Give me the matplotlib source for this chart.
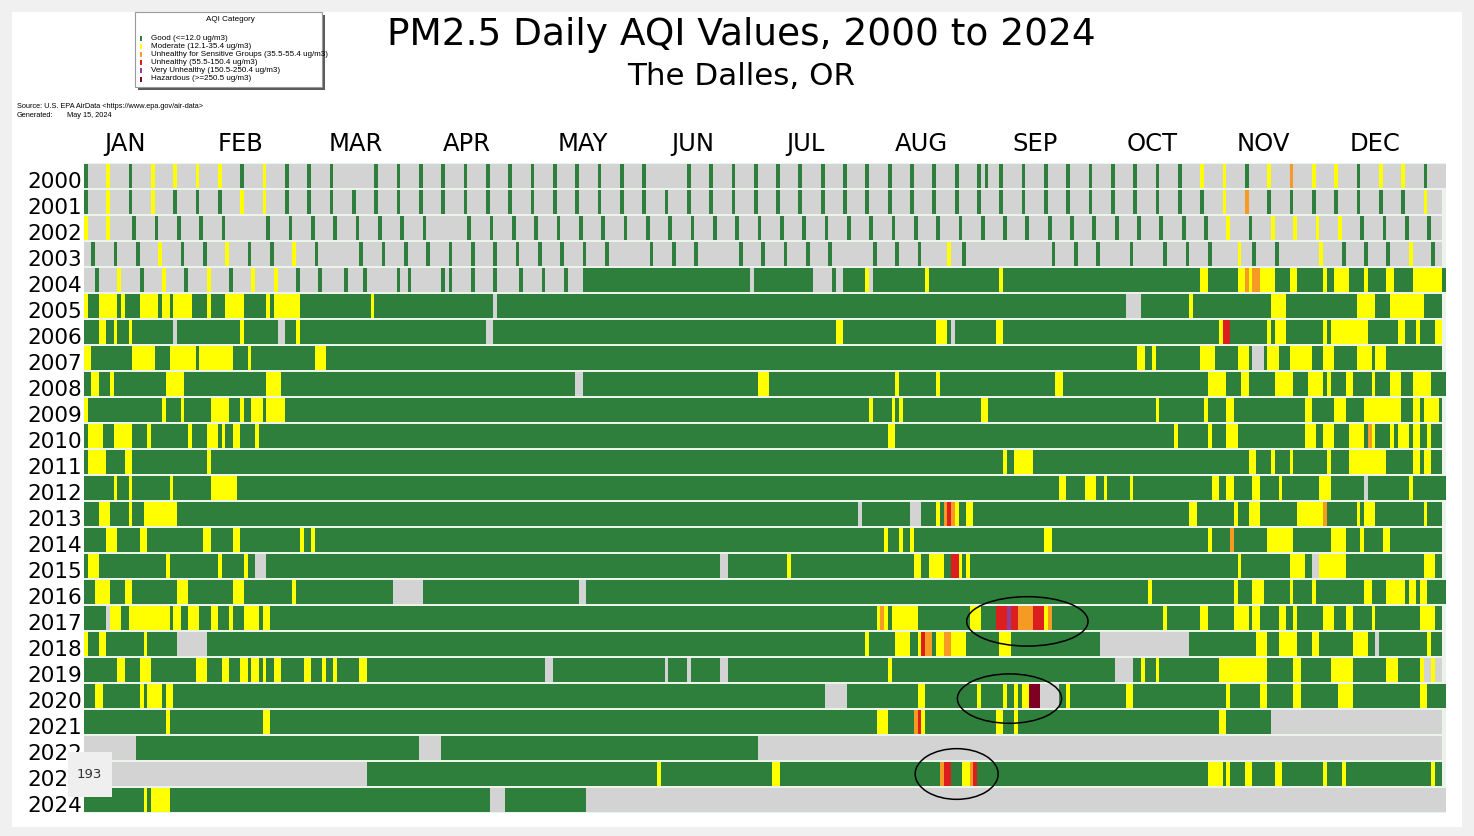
import re
import numpy as np
import matplotlib
matplotlib.use("Agg")
from matplotlib import pyplot as plt
from matplotlib.patches import Rectangle, Ellipse

W, H = 1474, 836

#========================================
#               Data
#========================================
years = list(range(2000, 2025))

category_codes = ['g', 'm', 's', 'u', 'v', 'h', 'n']
category_labels = ['Good (<=12.0 ug/m3)',
                   'Moderate (12.1-35.4 ug/m3)',
                   'Unhealthy for Sensitive Groups (35.5-55.4 ug/m3)',
                   'Unhealthy (55.5-150.4 ug/m3)',
                   'Very Unhealthy (150.5-250.4 ug/m3)',
                   'Hazardous (>=250.5 ug/m3)',
                   'No data']
category_colors = ['#2f7f3c', '#ffff00', '#f59a23', '#dc1e1e', '#8f3f97', '#7e0023', '#d3d3d3']

month_labels = ['JAN', 'FEB', 'MAR', 'APR', 'MAY', 'JUN',
                'JUL', 'AUG', 'SEP', 'OCT', 'NOV', 'DEC']
month_days = [31, 29, 31, 30, 31, 30, 31, 31, 30, 31, 30, 31]

# runs per year: "<first day><category>", each run lasts until the next one starts
day_runs = [
    "0n",
    "0n",
    "0n",
    "0n",
    "0n 134g 179n 180g 196n 204g 210m 211n 212g 226m 227g 246m 247g 300m 302g 310m 312s 313m 314s 316m 320g "
    "324m 326g 333m 334g 336m 340g 344m 345g 350m 352g 357m 365g",
    "0m 1g 4m 9g 10m 11g 15m 20g 21m 23g 24m 29g 33m 34g 38m 43g 49m 50g 51m 58g 77m 78g 110n 111g 280n 284g "
    "297m 298g 319m 323g 342m 347g 351m 360g",
    "0g 4m 6g 8m 9g 12m 13g 24n 25g 42m 43g 52n 54g 57m 58g 108n 110g 202m 204g 229m 232g 233n 234g 245m 247g "
    "305m 306u 308g 318m 319g 320m 323g 333m 334g 335m 345g 353m 355g 358m 359g 363m",
    "0m 2g 13m 19g 23m 30g 31m 40g 44m 45g 62m 65g 283m 285g 287m 288g 300m 304g 310m 313g 314n 317g 318m "
    "321g 324m 330g 333m 336g 342m 346g 347m 350g",
    "0g 2m 4g 7m 8g 22m 27g 49m 53g 132n 134g 181m 184g 218m 219g 229m 230g 261m 263g 302m 307g 311m 313g "
    "320m 325g 329m 333g 334m 335g 339m 341g 346m 347g 351m 354g 357m 362g",
    "0m 1g 21m 22g 26m 27g 34m 39g 42m 43g 45m 48g 49m 54g 211m 212g 217m 218g 219m 220g 241m 243g 288m 289g "
    "301m 302g 307m 309g 328m 330g 336m 339g 344m 354g 357m 359g 360m 364g",
    "0g 1m 5g 8m 13g 17m 18g 28m 29g 33m 36g 37m 38g 40m 42g 46m 47g 216m 218g 293m 294g 302m 303g 307m 310g "
    "328m 331g 333m 336g 340m 344g 345s 346m 347g 351m 352g 353m 356g 357m 359g 361m 362g",
    "0g 1m 6g 11m 13g 33m 34g 247m 248g 250m 255g 313m 315g 319m 320g 324m 325g 334m 335g 340m 350g 357m "
    "359g 360m 362g",
    "0g 8m 9g 12m 13g 23m 24g 34m 41g 262m 264g 269m 272g 274m 275g 281m 282g 303m 305g 307m 309g 314m 316g "
    "321m 322g 332m 335g 344n 345g 356m 357g",
    "0g 4m 7g 12m 13g 16m 25g 208n 209g 222n 225g 229m 230g 231s 232u 233s 234m 235g 237m 239g 297m 299g "
    "309m 310g 313m 316g 326m 333s 334g 342m 343g 344m 347g 360m 361g",
    "0g 6m 9g 15m 17g 32m 34g 40m 42g 58m 59g 61m 62g 215m 216g 219m 220g 222m 223g 258m 260g 302m 303g "
    "308s 309g 318m 325g 335m 339g 343m 344g 349m 351g",
    "0g 1m 4g 22m 23g 36m 37g 43m 44g 46n 49g 171n 173g 189m 190g 223m 225g 227m 231g 233u 235m 236g 237m "
    "238g 310m 311g 324m 328g 330n 332m 339g 360m 363g",
    "0g 3m 7g 11m 13g 25m 28g 40m 43g 56m 57g 83n 91g 133n 135g 286m 287g 309m 310g 314m 317g 324m 325g "
    "330m 331g 344m 346g 350m 355g 356m 358g 359m 361g",
    "0g 6n 7m 10g 12m 23g 24m 26g 28m 31g 34m 36g 39m 40g 43m 47g 48m 50g 213m 214s 215m 216g 217m 224g "
    "238m 241g 245u 248v 249u 251s 255u 258m 259s 260g 290m 291g 300m 302g 309m 313g 314m 316g 321m 323g "
    "325m 326g 333m 336g 339m 341g 346m 347g 359m 363g",
    "0m 1g 4m 6g 16m 17g 25n 33g 210m 211g 218m 222g 224m 225u 226s 228g 229m 231s 233m 237g 246m 249g "
    "273n 297g 315m 318g 321m 326g 330m 332g 341m 345g 347n 348g 361m 362g",
    "0g 9m 11g 15m 18g 30m 33g 37m 39g 42m 44g 45m 47g 48m 49g 51m 53g 59m 61g 64m 65g 67m 68g 74m 76g "
    "124n 126g 156n 157g 162n 163g 171n 173g 216m 217g 277n 282g 284m 285g 288m 289g 305m 318g 325m 327g "
    "335m 341g 350m 353g 359m 360n 362m 363n",
    "0g 3m 5g 15m 16g 17m 21g 22m 24g 199n 205g 224m 226g 240m 241g 247m 248g 250m 251g 252m 254h 257n "
    "262g 264m 265g 280m 282g 307m 308g 316m 318g 325m 327g 337m 341g 359m 361g",
    "0g 22m 23g 48m 50g 213m 216g 223s 224u 225m 226g 245m 247g 250m 251g 305m 307g 319n",
    "0n 14g 90n 96g 181n",
    "0n 76g 154m 155g 185m 187g 230s 231u 233g 236m 238s 239u 240g 302m 306g 307m 308g 312m 314g 320m "
    "322g 333m 334g 338m 339g 362m 363g",
    "0g 16m 17g 18m 23g 109n 113g 135n",
]

# single sampled days (early years were only monitored every few days)
sample_days = [
    "0g 6m 12g 18m 24m 30m 36m 42g 48m 54g 60g 66g 78g 84g 90g 96g 102g 108g 114g 120g 126g 132g 138g 144g "
    "150g 162g 168g 174g 180g 186g 192g 198g 204g 210g 216g 222g 228g 234g 240g 242g 246g 252g 258g 264g "
    "270g 276g 282g 288g 294g 300m 306m 312g 318m 324s 330m 336m 342g 348m 354m 360g",
    "0g 6m 12g 18m 24g 30g 36g 42m 48m 54g 60g 66g 72g 78g 84g 90g 96g 102g 108g 114g 120g 126g 132g 138g "
    "144g 150g 156g 162g 168g 174g 180g 186g 192g 198g 204g 210g 216g 222g 228g 234g 240g 246g 252g 258g "
    "264g 270g 276g 282g 288g 294g 300g 306m 312s 318g 324g 330g 336g 342g 348g 354g 360m",
    "0m 6m 13g 19g 25g 31g 37g 49g 55g 61g 67g 73g 79g 85g 91g 103g 109g 115g 121g 127g 133g 139g 145g "
    "151g 157g 163g 169g 175g 181g 187g 193g 199g 205g 211g 217g 223g 229g 235g 241g 247g 253g 259g 265g "
    "271g 277g 283g 289g 295g 301g 307m 313g 319m 325m 331m 337m 343g 349g 355g 361g",
    "2g 8g 14g 20m 26g 32g 38m 44g 50g 56m 62g 74g 80g 86g 92g 98g 104g 110g 116g 122g 128g 134g 140g "
    "152g 158g 164g 176g 182g 188g 194g 200g 212g 218g 224g 232m 236g 260g 266g 272g 281g 290g 296g 302g "
    "310m 314g 320g 332m 338g 344g 350g 356m 362g",
    "3g 9m 15g 21m 27g 33m 39g 45m 51m 57g 63g 70g 75g 84g 87g 96g 98g 104g 110g 117g 123g 129g 201g",
] + [""] * 20

# hand drawn highlight ellipses: (day, row, width in days, height in rows)
highlight_days = [253.5, 248.7, 234.5]
highlight_rows = [17.13, 20.1, 23.0]
highlight_widths = [32.6, 28.0, 22.3]
highlight_heights = [1.9, 1.9, 1.95]


def parse(text):
    return [(int(m.group(1)), m.group(2)) for m in re.finditer(r'(\d+)([a-z])', text)]


def fx(px):
    return px / W


def fy(py):
    return 1 - py / H


#========================================
#               Figure
#========================================
plt.rcParams['font.family'] = 'DejaVu Sans'
fig = plt.figure(figsize=(W / 100, H / 100), dpi=100, facecolor='#f0f0f0')

# white page inside the light grey frame
fig.patches.append(Rectangle((fx(12), fy(827)), (1462 - 12) / W, (827 - 12) / H,
                             transform=fig.transFigure, facecolor='white',
                             edgecolor='none', zorder=-10))

ax = fig.add_axes([fx(84), fy(813), (1446 - 84) / W, (813 - 163) / H])
ax.set_facecolor('#eaf4ea')
ax.set_xlim(0, 366)
ax.set_ylim(len(years) - 0.5, -0.5)
for s in ax.spines.values():
    s.set_visible(False)
ax.set_xticks([])
ax.set_yticks([])

color_of = dict(zip(category_codes, category_colors))
draw_order = ['n', 'g', 'm', 's', 'u', 'v', 'h']

for row, year in enumerate(years):
    ndays = 366 if year % 4 == 0 else 365
    runs = parse(day_runs[row])
    bars = {c: [] for c in category_codes}
    for i, (start, cat) in enumerate(runs):
        end = runs[i + 1][0] if i + 1 < len(runs) else ndays
        bars[cat].append((start, end - start))
    for day, cat in parse(sample_days[row]):
        bars[cat].append((day, 1))
    for c in draw_order:
        if bars[c]:
            ax.broken_barh(bars[c], (row - 0.47, 0.94), facecolors=color_of[c],
                           linewidth=0, antialiased=False)

    #year label to the left of each row
    ax.text(-0.5, row + 0.47, str(year), ha='right', va='baseline',
            fontsize=15.5, color='black', clip_on=False)

# month labels above the rows (centred a little before mid month, as in the original)
starts = np.cumsum([0] + month_days[:-1])
label_shift = [11, 11, 13, 12, 13, 11.5, 12, 12, 11.5, 13, 12, 12]
for lab, st, sh in zip(month_labels, starts, label_shift):
    ax.text(st + sh, 1.019, lab, ha='center', va='baseline', fontsize=17.5,
            transform=ax.get_xaxis_transform(), clip_on=False)

# highlight ellipses
for d, r, w, h in zip(highlight_days, highlight_rows, highlight_widths, highlight_heights):
    ax.add_patch(Ellipse((d, r), w, h, fill=False, edgecolor='black',
                         linewidth=1.1, clip_on=False, zorder=5))

# titles
fig.text(fx(741), fy(45), 'PM2.5 Daily AQI Values, 2000 to 2024', ha='center',
         va='baseline', fontsize=27)
fig.text(fx(741), fy(85), 'The Dalles, OR', ha='center', va='baseline', fontsize=22.3)

# source notes
fig.text(fx(17), fy(108), 'Source: U.S. EPA AirData <https://www.epa.gov/air-data>',
         fontsize=5.3, family='Liberation Sans', va='baseline')
fig.text(fx(17), fy(117), 'Generated:', fontsize=5.3, family='Liberation Sans', va='baseline')
fig.text(fx(67), fy(117), 'May 15, 2024', fontsize=5.3, family='Liberation Sans', va='baseline')

#========================================
#               Legend box
#========================================
fig.patches.append(Rectangle((fx(138), fy(90)), (325 - 138) / W, (90 - 15) / H,
                             transform=fig.transFigure, facecolor='#5a5a5a',
                             edgecolor='none', zorder=1))
fig.patches.append(Rectangle((fx(135), fy(87)), (322 - 135) / W, (87 - 12) / H,
                             transform=fig.transFigure, facecolor='white',
                             edgecolor='#9a9a9a', linewidth=0.8, zorder=2))
fig.text(fx(230), fy(21), 'AQI Category', ha='center', va='baseline', fontsize=5.8,
         family='Liberation Sans', zorder=3)
for i in range(6):
    yc = 38.5 + i * 8.1
    fig.patches.append(Rectangle((fx(139.5), fy(yc + 2.5)), 2 / W, 5 / H,
                                 transform=fig.transFigure, facecolor=category_colors[i],
                                 edgecolor='none', zorder=3))
    fig.text(fx(151), fy(yc), category_labels[i], ha='left', va='center', fontsize=5.8,
             family='Liberation Sans', zorder=3)

# slide number overlay in the lower left corner
fig.patches.append(Rectangle((fx(68), fy(797)), (112 - 68) / W, (797 - 752) / H,
                             transform=fig.transFigure, facecolor='#efefef',
                             edgecolor='none', zorder=10))
fig.text(fx(89), fy(775), '193', ha='center', va='center', fontsize=9.5,
         color='#333333', zorder=11)

fig.savefig('out.png', dpi=100, facecolor=fig.get_facecolor())
